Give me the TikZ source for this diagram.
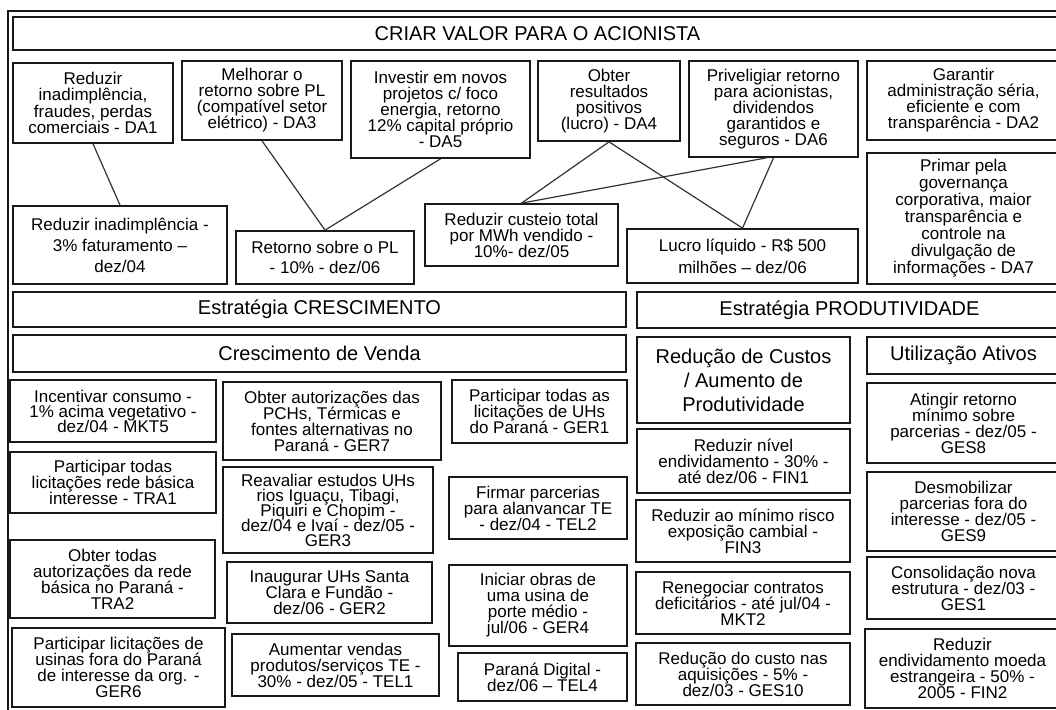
\documentclass[tikz,border=0pt]{standalone}
\usepackage{fontspec}
\setmainfont{Liberation Sans}
% body text of the boxes: tight leading, baselines kept exact
\newcommand\tbfont{\fontsize{17}{16}\selectfont\lineskiplimit=-50pt\relax}
\newcommand\hdfont{\fontsize{20}{24}\selectfont\lineskiplimit=-50pt\relax}
% \pbox[style]{x1}{y1}{x2}{y2}{name}{text}: a box given by its corners
\newcommand\pbox[7][box]{%
  \node[#1, minimum width={(#4-#2)*1pt}, minimum height={(#5-#3)*1pt}]
    (#6) at ({(#2+#4)/2},{(#3+#5)/2}) {#7};}
\begin{document}
\begin{tikzpicture}[x=1pt,y=-1pt,
  box/.style={draw=black!90, line width=1.7pt, inner sep=1pt, align=center, font=\tbfont},
  lead/.style={box, font={\tbfont\baselineskip=#1pt}},
  head/.style={box, font=\hdfont},
  link/.style={draw=black!80, line width=1.2pt}]
\useasboundingbox (0,0) rectangle (1056,709);
\clip (0,0) rectangle (1056,709);
\fill[white] (0,0) rectangle (1056,709);

% outer frame
\draw[line width=1.7pt, black!90] (8,11) rectangle (1080,730);

% title
\pbox[head]{13}{17}{1062}{50}{title}{CRIAR VALOR PARA O ACIONISTA}

% objectives
\pbox[lead=16.5]{13}{63}{173}{143}{da1}{Reduzir\\inadimplência,\\fraudes, perdas\\comerciais - DA1}
\pbox{182}{61}{342}{140}{da3}{Melhorar o\\retorno sobre PL\\(compatível setor\\elétrico) - DA3}
\pbox{351}{61}{530}{158}{da5}{Investir em novos\\projetos c/ foco\\energia, retorno\\12\% capital próprio\\- DA5}
\pbox{538}{61}{680}{141}{da4}{Obter\\resultados\\positivos\\(lucro) - DA4}
\pbox{689}{61}{858}{157}{da6}{Priveligiar retorno\\para acionistas,\\dividendos\\garantidos e\\seguros - DA6}
\pbox{867}{61}{1060}{140}{da2}{Garantir\\administração séria,\\eficiente e com\\transparência - DA2}
\pbox[lead=17]{867}{153}{1060}{284}{da7}{Primar pela\\governança\\corporativa, maior\\transparência e\\controle na\\divulgação de\\informações - DA7}

% targets
\pbox[lead=21]{13}{206}{227}{284}{t1}{Reduzir inadimplência -\\3\% faturamento –\\dez/04}
\pbox[lead=20]{236}{231}{414}{284}{t2}{Retorno sobre o PL\\- 10\% - dez/06}
\pbox{425}{204}{618}{266}{t3}{Reduzir custeio total\\por MWh vendido -\\10\%- dez/05}
\pbox[lead=22]{627}{229}{858}{283}{t4}{Lucro líquido - R\$ 500\\milhões – dez/06}

\draw[link] (da1.south) -- (t1.north);
\draw[link] (da3.south) -- (t2.north);
\draw[link] (da5.south) -- (t2.north);
\draw[link] (da4.south) -- (t3.north);
\draw[link] (da4.south) -- (t4.north);
\draw[link] ([xshift=-7pt]da6.south) -- (t3.north);
\draw[link] (da6.south) -- (t4.north);

% strategies
\pbox[head]{13}{292}{626}{327}{cresc}{Estratégia CRESCIMENTO}
\pbox[head]{637}{292}{1062}{328}{prod}{Estratégia PRODUTIVIDADE}
\pbox[head]{13}{335}{626}{372}{venda}{Crescimento de Venda}
\pbox[head]{637}{337}{850}{423}{custos}{Redução de Custos\\/ Aumento de\\Produtividade}
\pbox[head]{867}{337}{1060}{374}{ativos}{Utilização Ativos}

% growth in sales
\pbox[lead=15]{10}{380}{216}{442}{mkt5}{Incentivar consumo -\\1\% acima vegetativo -\\dez/04 - MKT5}
\pbox{10}{452}{216}{513}{tra1}{Participar todas\\licitações rede básica\\interesse - TRA1}
\pbox{10}{540}{215}{618}{tra2}{Obter todas\\autorizações da rede\\básica no Paraná -\\TRA2}
\pbox{12}{628}{225}{707}{ger6}{Participar licitações de\\usinas fora do Paraná\\de interesse da org. -\\GER6}

\pbox{223}{382}{441}{460}{ger7}{Obter autorizações das\\PCHs, Térmicas e\\fontes alternativas no\\Paraná - GER7}
\pbox[lead=15]{223}{467}{433}{553}{ger3}{Reavaliar estudos UHs\\rios Iguaçu, Tibagi,\\Piquiri e Chopim -\\dez/04 e Ivaí - dez/05 -\\GER3}
\pbox{227}{562}{432}{623}{ger2}{Inaugurar UHs Santa\\Clara e Fundão -\\dez/06 - GER2}
\pbox{232}{634}{439}{696}{tel1}{Aumentar vendas\\produtos/serviços TE -\\30\% - dez/05 - TEL1}

\pbox{452}{380}{627}{443}{ger1}{Participar todas as\\licitações de UHs\\do Paraná - GER1}
\pbox{449}{477}{627}{539}{tel2}{Firmar parcerias\\para alanvancar TE\\- dez/04 - TEL2}
\pbox{449}{565}{627}{646}{ger4}{Iniciar obras de\\uma usina de\\porte médio -\\jul/06 - GER4}
\pbox{458}{653}{627}{701}{tel4}{Paraná Digital -\\dez/06 – TEL4}

% cost reduction / productivity
\pbox{637}{429}{850}{493}{fin1}{Reduzir nível\\endividamento - 30\% -\\até dez/06 - FIN1}
\pbox{636}{500}{850}{562}{fin3}{Reduzir ao mínimo risco\\exposição cambial -\\FIN3}
\pbox{636}{572}{850}{634}{mkt2}{Renegociar contratos\\deficitários - até jul/04 -\\MKT2}
\pbox{636}{643}{850}{705}{ges10}{Redução do custo nas\\aquisições - 5\% -\\dez/03 - GES10}

% use of assets
\pbox{867}{383}{1060}{463}{ges8}{Atingir retorno\\mínimo sobre\\parcerias - dez/05 -\\GES8}
\pbox{867}{472}{1060}{551}{ges9}{Desmobilizar\\parcerias fora do\\interesse - dez/05 -\\GES9}
\pbox{867}{557}{1060}{619}{ges1}{Consolidação nova\\estrutura - dez/03 -\\GES1}
\pbox{865}{629}{1060}{708}{fin2}{Reduzir\\endividamento moeda\\estrangeira - 50\% -\\2005 - FIN2}
\end{tikzpicture}
\end{document}
